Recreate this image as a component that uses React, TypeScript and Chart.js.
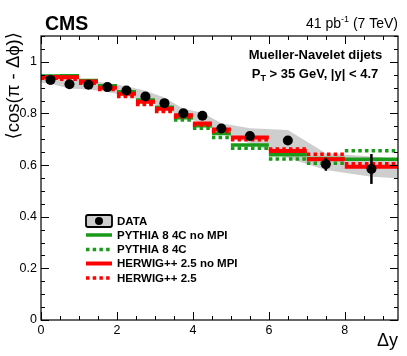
import React, { useEffect, useRef } from "react";
import { Chart, registerables } from "chart.js";
Chart.register(...registerables);

// ---- data ----
const binEdges = [0, 0.5, 1, 1.5, 2, 2.5, 3, 3.5, 4, 4.5, 5, 6, 7, 8, 9.4];
const dataX = [0.25, 0.75, 1.25, 1.75, 2.25, 2.75, 3.25, 3.75, 4.25, 4.75, 5.5, 6.5, 7.5, 8.7];
const dataY = [0.930, 0.913, 0.911, 0.902, 0.889, 0.866, 0.840, 0.801, 0.791, 0.742, 0.713, 0.695, 0.603, 0.585];
const dataStatErr = [0.003, 0.003, 0.003, 0.003, 0.003, 0.004, 0.004, 0.005, 0.005, 0.006, 0.008, 0.012, 0.025, 0.058];
const bandX = [0, 0.25, 0.75, 1.25, 1.75, 2.25, 2.75, 3.25, 3.75, 4.25, 4.75, 5.5, 6.5, 7.5, 8.7, 9.4];
const bandUpper = [0.950, 0.947, 0.930, 0.927, 0.918, 0.905, 0.888, 0.862, 0.818, 0.803, 0.762, 0.743, 0.736, 0.646, 0.633, 0.625];
const bandLower = [0.920, 0.915, 0.897, 0.893, 0.883, 0.868, 0.848, 0.822, 0.783, 0.765, 0.722, 0.685, 0.627, 0.581, 0.555, 0.549];
const pythiaNoMPI = [0.945, 0.946, 0.928, 0.907, 0.884, 0.852, 0.824, 0.783, 0.752, 0.722, 0.678, 0.640, 0.626, 0.623];
const pythia4C = [0.943, 0.940, 0.920, 0.898, 0.870, 0.838, 0.810, 0.775, 0.743, 0.707, 0.665, 0.624, 0.607, 0.656];
const herwigNoMPI = [0.941, 0.940, 0.924, 0.900, 0.876, 0.845, 0.818, 0.793, 0.761, 0.738, 0.707, 0.655, 0.623, 0.594];
const herwig25 = [0.936, 0.932, 0.917, 0.893, 0.866, 0.835, 0.808, 0.786, 0.755, 0.730, 0.698, 0.662, 0.642, 0.605];
const xTickStep = 2;
const yTickStep = 0.2;
const xMinorStep = 0.5;
const yMinorStep = 0.05;
const legendLabels = ["DATA", "PYTHIA 8 4C no MPI", "PYTHIA 8 4C", "HERWIG++ 2.5 no MPI", "HERWIG++ 2.5"];

const GREEN = "#1a9a1a";
const RED = "#ff0000";
const BAND = "rgb(206,206,206)";
const FONT = "'Liberation Sans', Arial, Helvetica, 'DejaVu Sans', sans-serif";

// horizontal segment per bin, with gaps between bins
function histPoints(vals: number[]) {
  const pts: { x: number; y: number | null }[] = [];
  vals.forEach((v, i) => {
    pts.push({ x: binEdges[i], y: v });
    pts.push({ x: binEdges[i + 1], y: v });
    pts.push({ x: binEdges[i + 1], y: null });
  });
  return pts;
}

const overlay = {
  id: "overlay",
  afterDatasetsDraw(chart: any) {
    const ctx = chart.ctx;
    const xs = chart.scales.x;
    const ys = chart.scales.y;
    ctx.save();
    ctx.strokeStyle = "#000";
    ctx.lineWidth = 2.5;
    dataX.forEach((xv, i) => {
      const px = xs.getPixelForValue(xv);
      ctx.beginPath();
      ctx.moveTo(px, ys.getPixelForValue(dataY[i] - dataStatErr[i]));
      ctx.lineTo(px, ys.getPixelForValue(dataY[i] + dataStatErr[i]));
      ctx.stroke();
    });
    ctx.restore();
  },
  afterDraw(chart: any) {
    const ctx = chart.ctx;
    const { left, right, top, bottom } = chart.chartArea;
    const xs = chart.scales.x;
    const ys = chart.scales.y;
    ctx.save();
    // frame
    ctx.strokeStyle = "#000";
    ctx.lineWidth = 1.2;
    ctx.strokeRect(left, top, right - left, bottom - top);
    // ticks
    ctx.lineWidth = 1;
    ctx.beginPath();
    for (let v = 0; v <= 9.4 + 1e-9; v += xMinorStep) {
      const major = Math.abs(v / xTickStep - Math.round(v / xTickStep)) < 1e-6;
      const len = major ? 8 : 4;
      const px = Math.round(xs.getPixelForValue(v)) + 0.5;
      ctx.moveTo(px, bottom);
      ctx.lineTo(px, bottom - len);
      ctx.moveTo(px, top);
      ctx.lineTo(px, top + len);
    }
    for (let v = 0; v <= 1.1 + 1e-9; v += yMinorStep) {
      const major = Math.abs(v / yTickStep - Math.round(v / yTickStep)) < 1e-6;
      const len = major ? 8 : 4;
      const py = Math.round(ys.getPixelForValue(v)) + 0.5;
      ctx.moveTo(left, py);
      ctx.lineTo(left + len, py);
      ctx.moveTo(right, py);
      ctx.lineTo(right - len, py);
    }
    ctx.stroke();

    // texts
    ctx.fillStyle = "#000";
    ctx.textBaseline = "alphabetic";
    ctx.font = `bold 19.5px ${FONT}`;
    ctx.textAlign = "left";
    ctx.fillText("CMS", 45, 30);

    // lumi text
    ctx.font = `14px ${FONT}`;
    const part2 = " (7 TeV)";
    const part1 = "41 pb";
    const sup = "-1";
    const w2 = ctx.measureText(part2).width;
    const w1 = ctx.measureText(part1).width;
    ctx.font = `9px ${FONT}`;
    const ws = ctx.measureText(sup).width;
    const xr = 398;
    ctx.font = `14px ${FONT}`;
    ctx.fillText(part2, xr - w2, 28);
    ctx.font = `9px ${FONT}`;
    ctx.fillText(sup, xr - w2 - ws, 22);
    ctx.font = `14px ${FONT}`;
    ctx.fillText(part1, xr - w2 - ws - w1, 28);

    // annotation
    ctx.font = `bold 13px ${FONT}`;
    ctx.textAlign = "center";
    ctx.fillText("Mueller-Navelet dijets", 315.5, 59);
    {
      const a = "P";
      const b = "T";
      const c = " > 35 GeV, |y| < 4.7";
      ctx.font = `bold 13px ${FONT}`;
      const wa = ctx.measureText(a).width;
      const wc = ctx.measureText(c).width;
      ctx.font = `bold 9px ${FONT}`;
      const wb = ctx.measureText(b).width;
      const total = wa + wb + wc;
      const x0 = 315 - total / 2;
      ctx.textAlign = "left";
      ctx.font = `bold 13px ${FONT}`;
      ctx.fillText(a, x0, 78);
      ctx.font = `bold 9px ${FONT}`;
      ctx.fillText(b, x0 + wa, 81);
      ctx.font = `bold 13px ${FONT}`;
      ctx.fillText(c, x0 + wa + wb, 78);
    }

    // axis titles
    ctx.font = `18px ${FONT}`;
    ctx.textAlign = "right";
    ctx.fillText("\u0394y", 398, 346);
    ctx.save();
    ctx.translate(19, 32);
    ctx.rotate(-Math.PI / 2);
    ctx.textAlign = "right";
    ctx.font = `18.5px ${FONT}`;
    ctx.fillText("\u27E8cos(\u03C0 - \u0394\u03D5)\u27E9", 0, 0);
    ctx.restore();

    // legend
    const rowY = [221, 235, 249.5, 263.5, 278];
    const sx0 = 86, sx1 = 112;
    ctx.fillStyle = BAND;
    ctx.strokeStyle = "#000";
    ctx.lineWidth = 1.8;
    ctx.beginPath();
    if ((ctx as any).roundRect) (ctx as any).roundRect(sx0, rowY[0] - 6, sx1 - sx0, 12, 2);
    else ctx.rect(sx0, rowY[0] - 6, sx1 - sx0, 12);
    ctx.fill();
    ctx.stroke();
    ctx.fillStyle = "#000";
    ctx.beginPath();
    ctx.arc((sx0 + sx1) / 2, rowY[0], 4, 0, Math.PI * 2);
    ctx.fill();
    const styles = [
      { c: GREEN, d: [] as number[], w: 3.5 },
      { c: GREEN, d: [3.5, 3.2], w: 3.5 },
      { c: RED, d: [] as number[], w: 4 },
      { c: RED, d: [3.5, 3.2], w: 3.5 },
    ];
    styles.forEach((s, i) => {
      ctx.strokeStyle = s.c;
      ctx.lineWidth = s.w;
      ctx.setLineDash(s.d);
      ctx.beginPath();
      ctx.moveTo(sx0, rowY[i + 1]);
      ctx.lineTo(sx1, rowY[i + 1]);
      ctx.stroke();
    });
    ctx.setLineDash([]);
    ctx.fillStyle = "#000";
    ctx.font = `bold 11.5px ${FONT}`;
    ctx.textAlign = "left";
    ctx.textBaseline = "middle";
    legendLabels.forEach((t, i) => ctx.fillText(t, 117, rowY[i] + 0.5));
    ctx.restore();
  },
};

export default function App() {
  const ref = useRef<HTMLCanvasElement | null>(null);
  useEffect(() => {
    if (!ref.current) return;
    const histDs = (label: string, vals: number[], color: string, width: number, dashed: boolean, order: number) => ({
      label,
      data: histPoints(vals),
      showLine: true,
      spanGaps: false,
      borderColor: color,
      borderWidth: width,
      borderDash: dashed ? [3.5, 3.2] : [],
      borderCapStyle: "butt",
      pointRadius: 0,
      fill: false,
      order,
    });
    const chart = new Chart(ref.current, {
      type: "scatter",
      data: {
        datasets: [
          {
            label: "DATA",
            data: dataX.map((x, i) => ({ x, y: dataY[i] })),
            showLine: false,
            pointRadius: 5,
            pointBackgroundColor: "#000",
            pointBorderColor: "#000",
            pointBorderWidth: 0,
            order: 0,
          } as any,
          histDs("HERWIG++ 2.5 no MPI", herwigNoMPI, RED, 4, false, 2),
          histDs("HERWIG++ 2.5", herwig25, RED, 3.5, true, 3),
          histDs("PYTHIA 8 4C no MPI", pythiaNoMPI, GREEN, 3.5, false, 4),
          histDs("PYTHIA 8 4C", pythia4C, GREEN, 3.5, true, 5),
          {
            label: "band upper",
            data: bandX.map((x, i) => ({ x, y: bandUpper[i] })),
            showLine: true,
            borderWidth: 0,
            borderColor: "rgba(0,0,0,0)",
            backgroundColor: BAND,
            pointRadius: 0,
            fill: "+1",
            order: 10,
          },
          {
            label: "band lower",
            data: bandX.map((x, i) => ({ x, y: bandLower[i] })),
            showLine: true,
            borderWidth: 0,
            borderColor: "rgba(0,0,0,0)",
            pointRadius: 0,
            fill: false,
            order: 11,
          },
        ],
      },
      options: {
        animation: false,
        responsive: false,
        devicePixelRatio: 1,
        layout: { padding: { left: 0, right: 9, top: 36, bottom: 0 } },
        plugins: { legend: { display: false }, tooltip: { enabled: false } },
        scales: {
          x: {
            type: "linear",
            min: 0,
            max: 9.4,
            grid: { display: false, drawTicks: false },
            border: { display: false },
            ticks: {
              stepSize: xTickStep,
              includeBounds: false,
              color: "#000",
              padding: 3,
              maxRotation: 0,
              font: { family: FONT, size: 12.5 },
              callback: (v: any) => String(v),
            },
            afterFit: (s: any) => {
              s.height = 36;
            },
          },
          y: {
            type: "linear",
            min: 0,
            max: 1.1,
            grid: { display: false, drawTicks: false },
            border: { display: false },
            ticks: {
              stepSize: yTickStep,
              includeBounds: false,
              color: "#000",
              padding: 4,
              font: { family: FONT, size: 12.5 },
              callback: (v: any) => String(Math.round(Number(v) * 10) / 10),
            },
            afterFit: (s: any) => {
              s.width = 41;
            },
          },
        },
      } as any,
      plugins: [overlay],
    });
    return () => chart.destroy();
  }, []);
  return (
    <div style={{ position: "absolute", left: 0, top: 0, width: 407, height: 356, background: "#fff" }}>
      <canvas ref={ref} width={407} height={356} style={{ width: 407, height: 356, display: "block" }} />
    </div>
  );
}
